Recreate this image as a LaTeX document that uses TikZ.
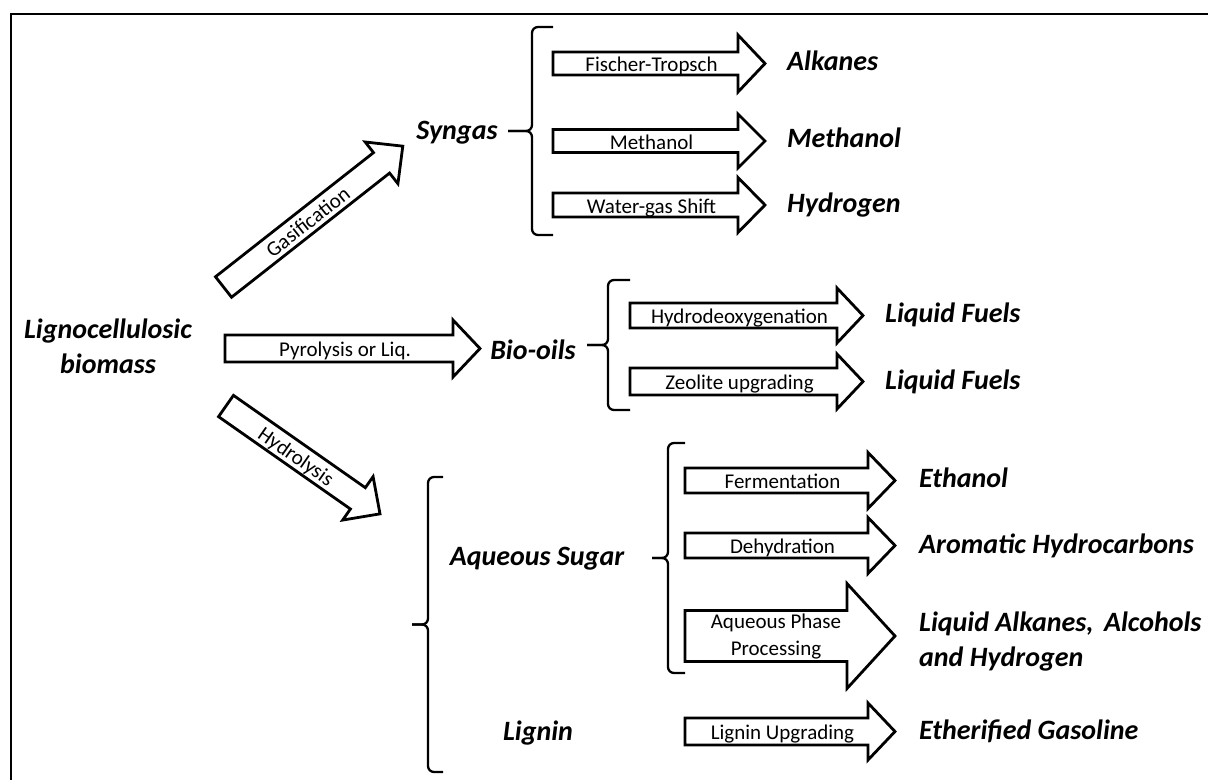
\documentclass[tikz,border=0pt]{standalone}
\usepackage{fontspec}
\setmainfont{Carlito}
\newcommand{\barrow}[9]{% name, x, y, angle, length, bodyhalf, headhalf, headlen, label
\begin{scope}[shift={(#2,#3)},rotate=#4]
 \draw[arrowline] (0,-#6) -- ({#5-#8},-#6) -- ({#5-#8},-#7) -- (#5,0) -- ({#5-#8},#7) -- ({#5-#8},#6) -- (0,#6) -- cycle;
 \node[proc,rotate=#4] (#1) at ({(#5-#8)/2+6},0) {#9};
\end{scope}}
\newcommand{\cbrace}[6]{% name, xspine, xend, xtip, ytop, ybot
 \draw[bracel] (#3,#5) -- (#2,#5) -- (#2,{(#5+#6)/2}) -- (#4,{(#5+#6)/2});
 \draw[bracel] (#3,#6) -- (#2,#6) -- (#2,{(#5+#6)/2}) -- (#4,{(#5+#6)/2});
 \coordinate (#1) at (#4,{(#5+#6)/2});}
\begin{document}
\begin{tikzpicture}[x=1pt,y=-1pt,
  prod/.style={font=\fontsize{28}{34}\selectfont\bfseries\itshape, inner sep=0pt, text height=20pt, text depth=6pt},
  prodm/.style={font=\fontsize{28}{35}\selectfont\bfseries\itshape, inner sep=0pt},
  proc/.style={font=\fontsize{21}{27}\selectfont, inner sep=0pt, text height=16pt, text depth=0pt},
  procm/.style={font=\fontsize{21}{27}\selectfont, inner sep=0pt, align=center},
  arrowline/.style={line width=2.8pt, line join=miter, fill=white},
  bracel/.style={line width=2.3pt, rounded corners=6pt}]
\useasboundingbox (0,0) rectangle (1208,780);
\fill[white] (0,0) rectangle (1208,780);
% frame
\draw[line width=2.5pt] (1208,14) -- (11,14) -- (11,780);
% source
\node[prodm, align=center] (bio) at (108,346) {Lignocellulosic\\biomass};
% syngas branch
\barrow{gas}{223.5}{287}{38.15}{228}{13}{26.5}{27}{Gasification}
\node[prod] (syngas) at (457,132) {Syngas};
\cbrace{sgbr}{532}{553}{508}{27}{235}
\barrow{ft}{553}{63.5}{0}{212}{11.5}{28.5}{27}{Fischer-Tropsch}
\barrow{meo}{553}{141}{0}{212}{11.5}{27}{27}{Methanol}
\barrow{wgs}{553}{205}{0}{212}{12}{27.5}{27}{Water-gas Shift}
\node[prod,anchor=west] (alk) at (787,63) {Alkanes};
\node[prod,anchor=west] (meoh) at (787,140) {Methanol};
\node[prod,anchor=west] (hyd) at (787,205) {Hydrogen};
% bio-oil branch
\barrow{pyr}{225}{348.5}{0}{255}{13.5}{28.5}{27}{Pyrolysis or Liq.}
\node[prod] (biooil) at (533,352) {Bio-oils};
\cbrace{bobr}{608}{630}{587}{280}{410}
\barrow{hdo}{630}{315.5}{0}{233}{12.5}{27.5}{26}{Hydrodeoxygenation}
\barrow{zeo}{630}{381.5}{0}{233}{13.5}{27.5}{26}{Zeolite upgrading}
\node[prod,anchor=west] (lf1) at (885,315) {Liquid Fuels};
\node[prod,anchor=west] (lf2) at (885,382) {Liquid Fuels};
% hydrolysis branch
\barrow{hyl}{226}{406}{-35}{188}{13}{26.5}{27}{Hydrolysis}
\cbrace{outbr}{428}{443}{412}{477}{772}
\node[prod] (sugar) at (537,558) {Aqueous Sugar};
\node[prod] (lignin) at (538,733) {Lignin};
\cbrace{inbr}{668}{685}{652}{443}{673}
\barrow{ferm}{685}{480.5}{0}{210}{12.5}{28}{27}{Fermentation}
\barrow{dehy}{685}{545.5}{0}{210}{12.5}{28}{27}{Dehydration}
\barrow{app}{685}{636}{0}{210}{25.5}{52.5}{48}{}
\node[procm] (applbl) at (776,637) {Aqueous Phase\\Processing};
\barrow{lup}{685}{731.5}{0}{210}{13.5}{28.5}{27}{Lignin Upgrading}
\node[prod,anchor=west] (eth) at (919,480) {Ethanol};
\node[prod,anchor=west] (arom) at (919,546) {Aromatic Hydrocarbons};
\node[prodm,anchor=west,align=left] (liqalk) at (919,641.5) {Liquid Alkanes,\hspace{0.15em} Alcohols\\and Hydrogen};
\node[prod,anchor=west] (ether) at (919,732) {Etherified Gasoline};
\end{tikzpicture}
\end{document}
